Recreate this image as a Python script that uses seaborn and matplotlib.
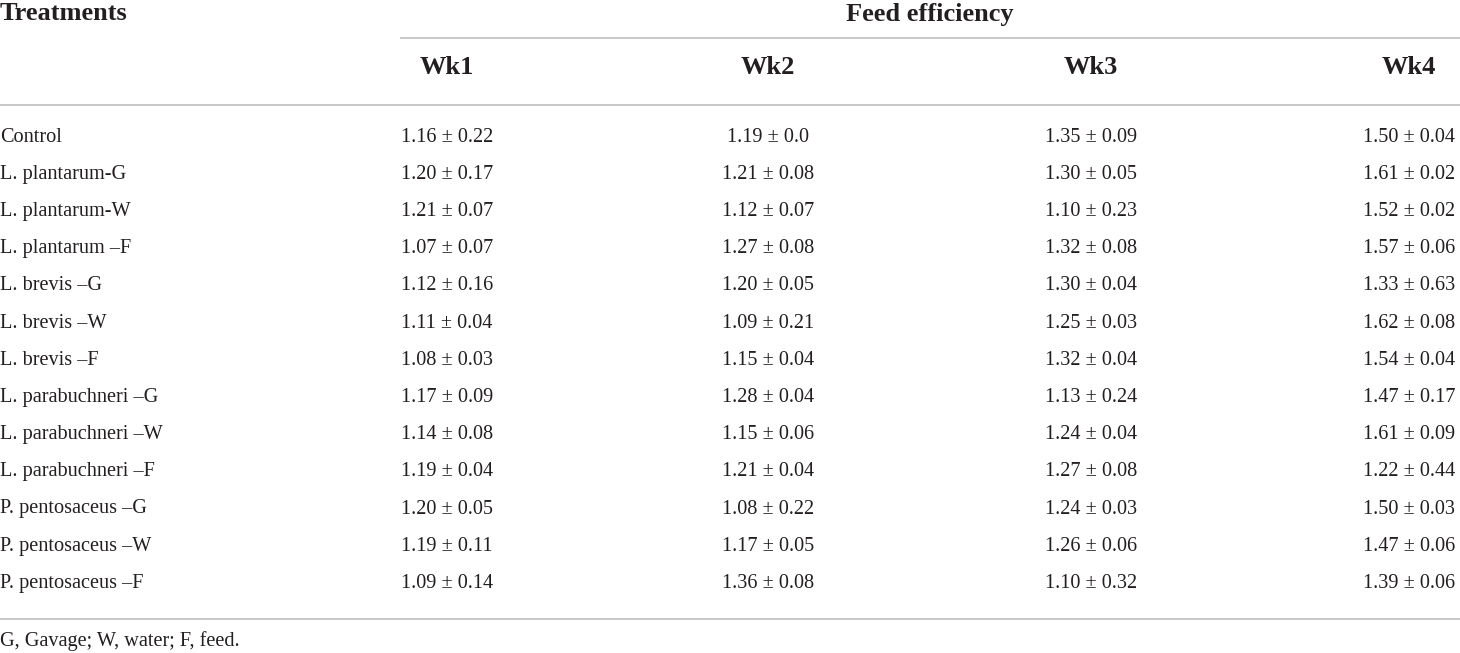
import matplotlib
matplotlib.use("Agg")
import matplotlib.pyplot as plt
import seaborn as sns
import pandas as pd

# table content
treatments = [
    "Control",
    "L. plantarum-G",
    "L. plantarum-W",
    "L. plantarum \u2013F",
    "L. brevis \u2013G",
    "L. brevis \u2013W",
    "L. brevis \u2013F",
    "L. parabuchneri \u2013G",
    "L. parabuchneri \u2013W",
    "L. parabuchneri \u2013F",
    "P. pentosaceus \u2013G",
    "P. pentosaceus \u2013W",
    "P. pentosaceus \u2013F",
]
weeks = ["Wk1", "Wk2", "Wk3", "Wk4"]

wk1_mean = ["1.16", "1.20", "1.21", "1.07", "1.12", "1.11", "1.08", "1.17", "1.14", "1.19", "1.20", "1.19", "1.09"]
wk1_sd   = ["0.22", "0.17", "0.07", "0.07", "0.16", "0.04", "0.03", "0.09", "0.08", "0.04", "0.05", "0.11", "0.14"]
wk2_mean = ["1.19", "1.21", "1.12", "1.27", "1.20", "1.09", "1.15", "1.28", "1.15", "1.21", "1.08", "1.17", "1.36"]
wk2_sd   = ["0.0", "0.08", "0.07", "0.08", "0.05", "0.21", "0.04", "0.04", "0.06", "0.04", "0.22", "0.05", "0.08"]
wk3_mean = ["1.35", "1.30", "1.10", "1.32", "1.30", "1.25", "1.32", "1.13", "1.24", "1.27", "1.24", "1.26", "1.10"]
wk3_sd   = ["0.09", "0.05", "0.23", "0.08", "0.04", "0.03", "0.04", "0.24", "0.04", "0.08", "0.03", "0.06", "0.32"]
wk4_mean = ["1.50", "1.61", "1.52", "1.57", "1.33", "1.62", "1.54", "1.47", "1.61", "1.22", "1.50", "1.47", "1.39"]
wk4_sd   = ["0.04", "0.02", "0.02", "0.06", "0.63", "0.08", "0.04", "0.17", "0.09", "0.44", "0.03", "0.06", "0.06"]

header_left = "Treatments"
header_group = "Feed efficiency"
footnote = "G, Gavage; W, water; F, feed."

df = pd.DataFrame({"Treatment": treatments})
for wk, m, s in zip(weeks, [wk1_mean, wk2_mean, wk3_mean, wk4_mean],
                    [wk1_sd, wk2_sd, wk3_sd, wk4_sd]):
    df[wk] = [f"{a} \u00b1 {b}" for a, b in zip(m, s)]

# layout (pixel units of the 1460 x 653 canvas)
W, H = 1460, 653
col_x = [447, 768, 1091, 1409]
row_y0, row_step = 137, 37.2
text_col = "#231f20"
rule_col = "#c8c8c8"

sns.set_theme(style="white")
plt.rcParams["font.family"] = ["Liberation Serif", "DejaVu Serif"]

fig = plt.figure(figsize=(W / 100, H / 100), dpi=100)
ax = fig.add_axes([0, 0, 1, 1])
ax.set_xlim(0, W)
ax.set_ylim(H, 0)
ax.axis("off")

body = dict(fontsize=14.6, color=text_col, va="center")
head = dict(fontsize=19, color=text_col, va="center", fontweight="bold")

# header
ax.text(0, 14, header_left, ha="left", **head)
ax.text(930, 14, header_group, ha="center", **head)
ax.plot([400, W], [38, 38], color=rule_col, lw=1.4, solid_capstyle="butt")
for x, wk in zip(col_x, weeks):
    ax.text(x, 68, wk, ha="center", **head)
ax.plot([0, W], [105, 105], color=rule_col, lw=1.4, solid_capstyle="butt")

# body
for i, row in df.iterrows():
    y = row_y0 + i * row_step
    ax.text(0, y, row["Treatment"], ha="left", **body)
    for x, wk in zip(col_x, weeks):
        ax.text(x, y, row[wk], ha="center", **body)

ax.plot([0, W], [619, 619], color=rule_col, lw=1.4, solid_capstyle="butt")
ax.text(0, 641, footnote, ha="left", **body)

fig.savefig("out.png", dpi=100, facecolor="white")
